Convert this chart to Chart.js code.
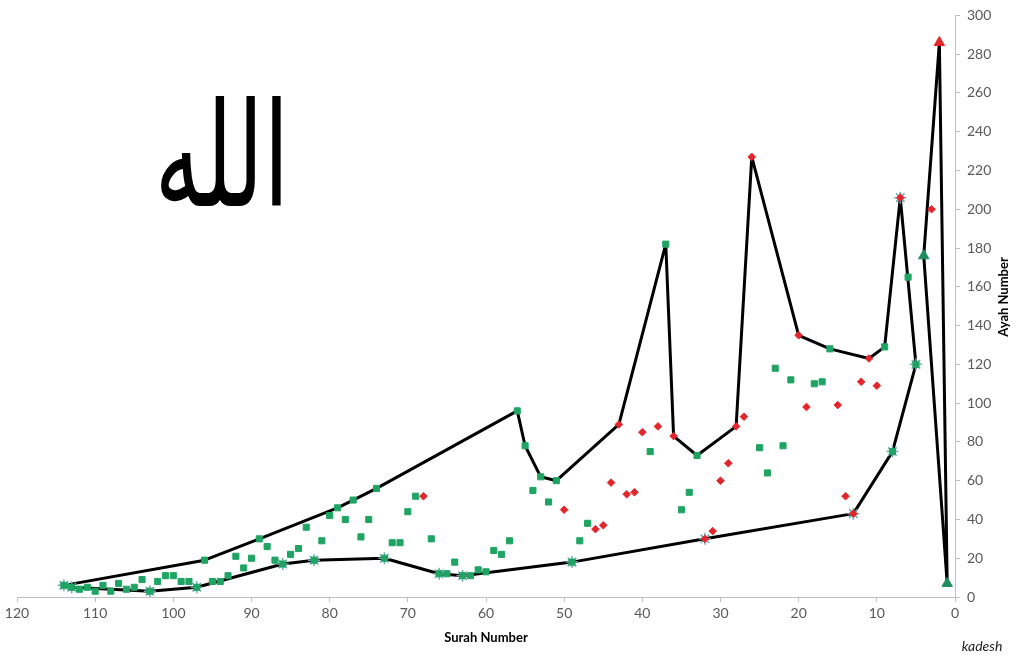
<!DOCTYPE html>
<html><head><meta charset="utf-8">
<script src="https://cdn.jsdelivr.net/npm/chart.js@4.4.1/dist/chart.umd.min.js"></script>
<style>
html,body{margin:0;padding:0;background:#fff;}
#wrap{position:relative;width:1024px;height:658px;overflow:hidden;}
#c{position:absolute;left:0;top:0;}
.allah{position:absolute;left:122px;top:96px;width:200px;height:120px;display:flex;align-items:center;justify-content:center;font-family:"DejaVu Sans";font-weight:normal;font-size:93px;color:#000;line-height:1;transform:scale(1,1.55);transform-origin:50% 50%;}
.ytitle{position:absolute;left:953px;top:288px;width:100px;height:18px;text-align:center;font-family:Lato;font-weight:bold;font-size:13px;line-height:18px;color:#000;transform:rotate(-90deg);}
.kadesh{position:absolute;left:952px;top:637px;width:60px;height:18px;text-align:center;font-family:Lato;font-style:italic;font-size:14px;line-height:18px;color:#222;}
</style></head><body>
<div id="wrap">
<canvas id="c" width="1024" height="658"></canvas>
<div class="allah" lang="ar" dir="rtl">الله</div>
<div class="ytitle">Ayah Number</div>
<div class="kadesh">kadesh</div>
</div>
<script>
// Surahs without opening letters (green squares)
const greenSurah = [5,6,8,9,16,17,18,21,22,23,24,25,33,34,35,37,39,47,48,49,51,52,53,54,55,56,57,58,59,60,61,62,63,64,65,66,67,69,70,71,72,73,74,75,76,77,78,79,80,81,82,83,84,85,86,87,88,89,90,91,92,93,94,95,96,97,98,99,100,101,102,103,104,105,106,107,108,109,110,111,112,113,114];
const greenAyah  = [120,165,75,129,128,111,110,112,78,118,64,77,73,54,45,182,75,38,29,18,60,49,62,55,78,96,29,22,24,13,14,11,11,18,12,12,30,52,44,28,28,20,56,40,31,50,40,46,42,29,19,36,25,22,17,19,26,30,20,15,21,11,8,8,19,5,8,8,11,11,8,3,9,5,4,7,3,6,3,5,4,5,6];
// Surahs with opening letters (red diamonds)
const redSurah = [3,7,10,11,12,13,14,15,19,20,26,27,28,29,30,31,32,36,38,40,41,42,43,44,45,46,50,68];
const redAyah  = [200,206,109,123,111,43,52,99,98,135,227,93,88,69,60,34,30,83,88,85,54,53,89,59,37,35,45,52];
// Triangles
const greenTriSurah = [1,4];
const greenTriAyah  = [7,176];
const redTriSurah = [2];
const redTriAyah  = [286];
// Asterisk markers
const starSurah = [114,113,103,97,86,82,73,66,63,49,32,13,8,7,5];
const starAyah  = [6,5,3,5,17,19,20,12,11,18,30,43,75,206,120];
// Outline path
const outlineSurah = [114,96,89,79,77,74,56,55,53,51,43,37,36,33,28,26,20,16,11,9,7,5,8,13,32,49,63,66,73,82,86,97,103,113,114];
const outlineAyah  = [6,19,30,46,50,56,96,78,62,60,89,182,83,73,88,227,135,128,123,129,206,120,75,43,30,18,11,12,20,19,17,5,3,5,6];
const peakSurah = [4,2,1,4];
const peakAyah  = [176,286,7,176];
// Axis ticks
const xTicks = [120,110,100,90,80,70,60,50,40,30,20,10,0];
const yTicks = [0,20,40,60,80,100,120,140,160,180,200,220,240,260,280,300];

const GREEN = '#1fa463', DKGREEN = '#1c8f5e', RED = '#e3262b', STAR = '#6aaab4';
const xy = (xs, ys) => xs.map((x, i) => ({x: x, y: ys[i]}));

Chart.defaults.font.family = 'Lato';
new Chart(document.getElementById('c'), {
  type: 'scatter',
  data: { datasets: [
    {data: xy(outlineSurah, outlineAyah), showLine: true, borderColor: '#000', borderWidth: 3, pointRadius: 0, order: 10, tension: 0, borderJoinStyle: 'round'},
    {data: xy(peakSurah, peakAyah), showLine: true, borderColor: '#000', borderWidth: 3, pointRadius: 0, order: 9, tension: 0, borderJoinStyle: 'round'},
    {data: xy(starSurah, starAyah), pointStyle: 'star', pointRadius: 6, borderColor: STAR, backgroundColor: STAR, borderWidth: 1.5, order: 8},
    {data: xy(greenSurah, greenAyah), pointStyle: 'rect', pointRadius: 4.3, backgroundColor: GREEN, borderColor: GREEN, borderWidth: 1, order: 3},
    {data: xy(redSurah, redAyah), pointStyle: 'rectRot', pointRadius: 3.8, backgroundColor: RED, borderColor: RED, borderWidth: 1, order: 3},
    {data: xy(greenTriSurah, greenTriAyah), pointStyle: 'triangle', pointRadius: 6, backgroundColor: DKGREEN, borderColor: DKGREEN, borderWidth: 1, order: 1},
    {data: xy(redTriSurah, redTriAyah), pointStyle: 'triangle', pointRadius: 6, backgroundColor: RED, borderColor: RED, borderWidth: 1, order: 1}
  ]},
  options: {
    responsive: false, animation: false, events: [],
    plugins: {legend: {display: false}, tooltip: {enabled: false}},
    layout: {padding: {left: 17, top: 12, right: 0, bottom: 0}},
    scales: {
      x: {
        type: 'linear', min: 0, max: 120, reverse: true,
        afterBuildTicks: s => { s.ticks = xTicks.map(v => ({value: v})); },
        ticks: {color: '#595959', font: {size: 14}, padding: 3, maxRotation: 0},
        grid: {drawOnChartArea: false, drawTicks: true, tickLength: 5, color: '#bfbfbf'},
        border: {color: '#bfbfbf', width: 1},
        title: {display: true, text: 'Surah Number', color: '#000', font: {size: 13, weight: 'bold'}, padding: {top: 0, bottom: 12}},
        afterFit: s => { s.height = 61; }
      },
      y: {
        position: 'right', min: 0, max: 300,
        afterBuildTicks: s => { s.ticks = yTicks.map(v => ({value: v})); },
        ticks: {color: '#595959', font: {size: 14}, padding: 7},
        grid: {drawOnChartArea: false, drawTicks: true, tickLength: 5, color: '#bfbfbf'},
        border: {color: '#bfbfbf', width: 1},
        afterFit: s => { s.width = 69; }
      }
    }
  }
});
</script>
</body></html>
